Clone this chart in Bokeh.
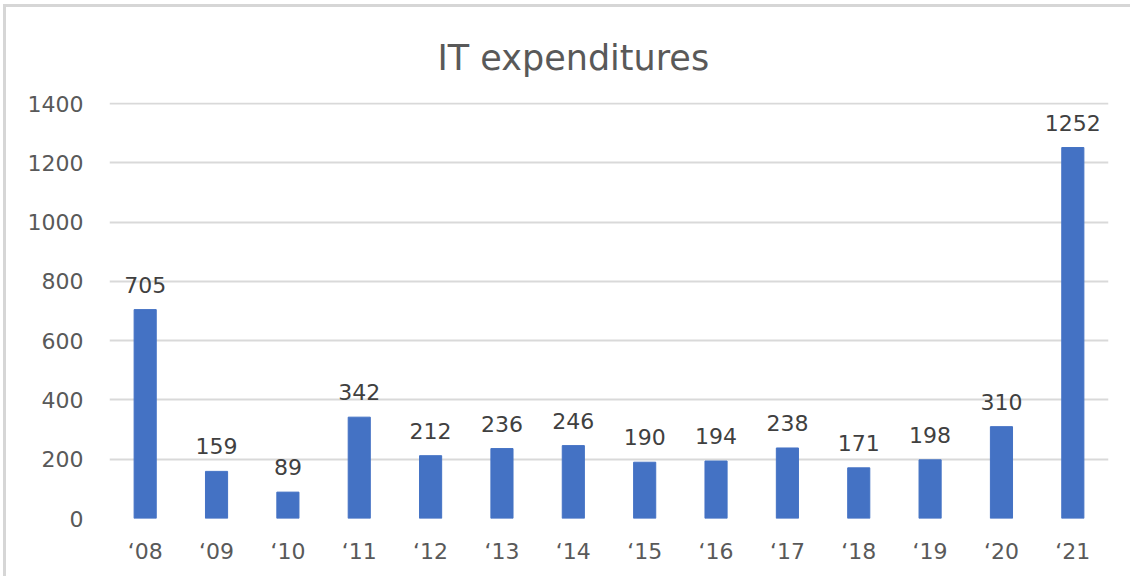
from bokeh.plotting import figure
from bokeh.models import ColumnDataSource, FixedTicker, LabelSet, Range1d
from bokeh.core.properties import value
from bokeh.embed import file_html
from bokeh.resources import INLINE

categories = ["‘08", "‘09", "‘10", "‘11", "‘12", "‘13", "‘14", "‘15", "‘16", "‘17", "‘18", "‘19", "‘20", "‘21"]
expenditures = [705, 159, 89, 342, 212, 236, 246, 190, 194, 238, 171, 198, 310, 1252]
y_ticks = [0, 200, 400, 600, 800, 1000, 1200, 1400]
title_text = "IT expenditures"

FONT = "DejaVu Sans"
GREY = "#595959"

src = ColumnDataSource(dict(cat=categories, val=expenditures, lab=[str(v) for v in expenditures]))

p = figure(width=1127, height=572, x_range=categories, y_range=Range1d(0, 1404),
           output_backend="svg", toolbar_location=None,
           min_border_left=103, min_border_right=25, min_border_top=95, min_border_bottom=61)
p.styles = {"margin-left": "3px", "margin-top": "4px",
            "border-left": "3px solid #d6d6d6", "border-top": "3px solid #d6d6d6"}

p.title.text = title_text
p.title.align = "left"
p.title.offset = 328
p.title.standoff = 50
p.title.text_font = FONT
p.title.text_font_size = "35px"
p.title.text_font_style = "normal"
p.title.text_color = GREY

p.vbar(x="cat", top="val", width=0.31, source=src, color="#4472C4")

labels = LabelSet(x="cat", y="val", text="lab", source=src, text_align="center",
                  text_baseline="alphabetic", y_offset=17, text_font=value(FONT),
                  text_font_size="22px", text_color="#404040")
p.add_layout(labels)

p.yaxis.ticker = FixedTicker(ticks=y_ticks)
for ax in (p.xaxis, p.yaxis):
    ax.axis_line_color = None
    ax.major_tick_line_color = None
    ax.minor_tick_line_color = None
    ax.major_label_text_font = FONT
    ax.major_label_text_font_size = "22px"
    ax.major_label_text_color = GREY
p.yaxis.major_label_standoff = 20
p.xaxis.major_label_standoff = 14

p.xgrid.grid_line_color = None
p.ygrid.grid_line_color = "#d9d9d9"
p.ygrid.grid_line_width = 2
p.outline_line_color = None
p.x_range.range_padding = 0

open("out.html", "w").write(file_html(p, INLINE))
